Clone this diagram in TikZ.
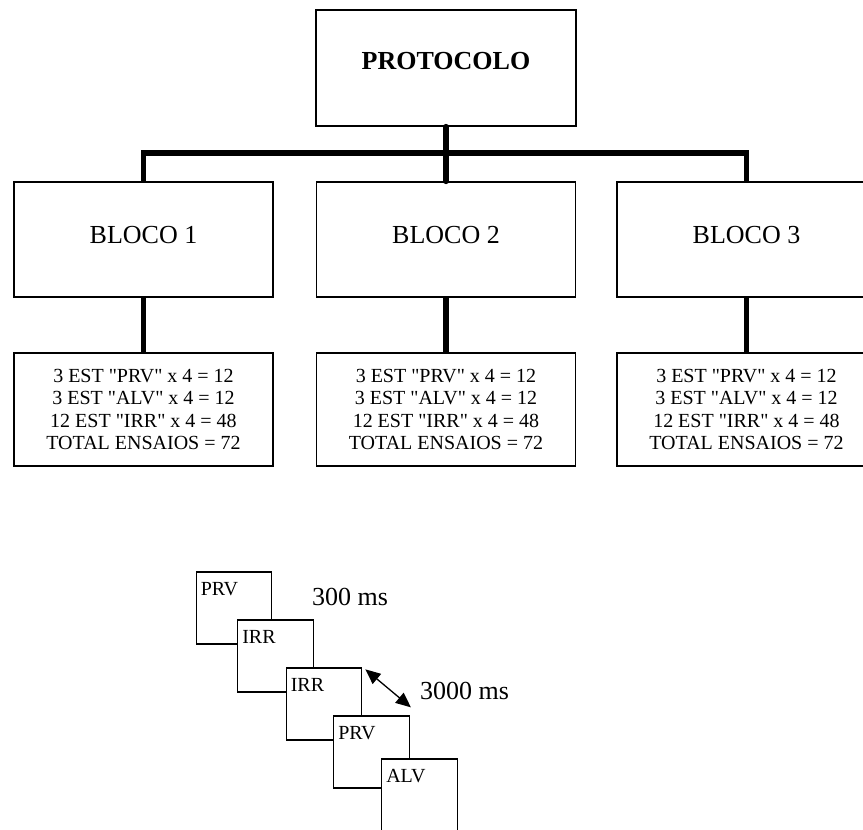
\documentclass[tikz,border=0pt]{standalone}
\usepackage{fontspec}
\setmainfont{Liberation Serif}[Ligatures=TeXOff]
\usetikzlibrary{arrows.meta}

\begin{document}
\begin{tikzpicture}[x=1pt, y=-1pt,
  topbox/.style={draw, line width=1.3pt, minimum width=260pt, minimum height=116pt,
                 text depth=14.5pt, font=\fontsize{26}{30}\selectfont\bfseries},
  blockbox/.style={draw, line width=1.3pt, minimum width=259pt, minimum height=115pt,
                   text depth=9pt, font=\fontsize{26}{30}\selectfont},
  infobox/.style={draw, line width=1.3pt, minimum width=259pt, minimum height=113pt,
                  inner sep=0pt, align=center, font=\fontsize{20}{22.6}\selectfont},
  bar/.style={line width=5.5pt, line cap=round},
  frame/.style={draw, fill=white, line width=1.3pt, minimum width=75.5pt, minimum height=72pt,
                inner sep=0pt, label={[anchor=north west, inner sep=0pt, xshift=5pt, yshift=-10.5pt,
                font=\fontsize{20}{22}\selectfont]north west:#1}},
  arr/.style={{Triangle[length=15pt,width=13pt]}-{Triangle[length=15pt,width=13pt]}, line width=1.3pt},
  timing/.style={font=\fontsize{26}{30}\selectfont}]
  \useasboundingbox (0,0) rectangle (863,830);

  \node[topbox] (prot) at (446,68) {PROTOCOLO};
  \node[blockbox] (b1) at (143.5,239.5) {BLOCO 1};
  \node[blockbox] (b2) at (446,239.5) {BLOCO 2};
  \node[blockbox] (b3) at (746.5,239.5) {BLOCO 3};
  \node[infobox] (i1) at (143.5,409.5) {3 EST "PRV" x 4 = 12\\3 EST "ALV" x 4 = 12\\12 EST "IRR" x 4 = 48\\TOTAL ENSAIOS = 72};
  \node[infobox] (i2) at (446,409.5) {3 EST "PRV" x 4 = 12\\3 EST "ALV" x 4 = 12\\12 EST "IRR" x 4 = 48\\TOTAL ENSAIOS = 72};
  \node[infobox] (i3) at (746.5,409.5) {3 EST "PRV" x 4 = 12\\3 EST "ALV" x 4 = 12\\12 EST "IRR" x 4 = 48\\TOTAL ENSAIOS = 72};

  % ligacoes
  \coordinate (junc) at (446,153);
  \draw[bar, line cap=butt] (b1.north) |- (junc) -| (b3.north);
  \draw[bar] (prot.south) -- (b2.north);
  \foreach \k in {1,2,3}
    \draw[bar, line cap=butt] (b\k.south) -- (i\k.north);

  % sequencia de estimulos
  \node[frame=PRV] (s1) at (234,608) {};
  \node[frame=IRR] (s2) at (275.5,656) {};
  \node[frame=IRR] (s3) at (324,704) {};
  \node[frame=PRV] (s4) at (371.5,752) {};
  \node[frame=ALV, minimum height=76pt] (s5) at (419.5,797) {};

  \node[timing] (t1) at (350,597) {300 ms};
  \node[timing] (t2) at (464.5,691) {3000 ms};
  \draw[arr] ([shift={(3,2)}]s3.north east) -- ([shift={(1,-8)}]s4.north east);
\end{tikzpicture}
\end{document}
